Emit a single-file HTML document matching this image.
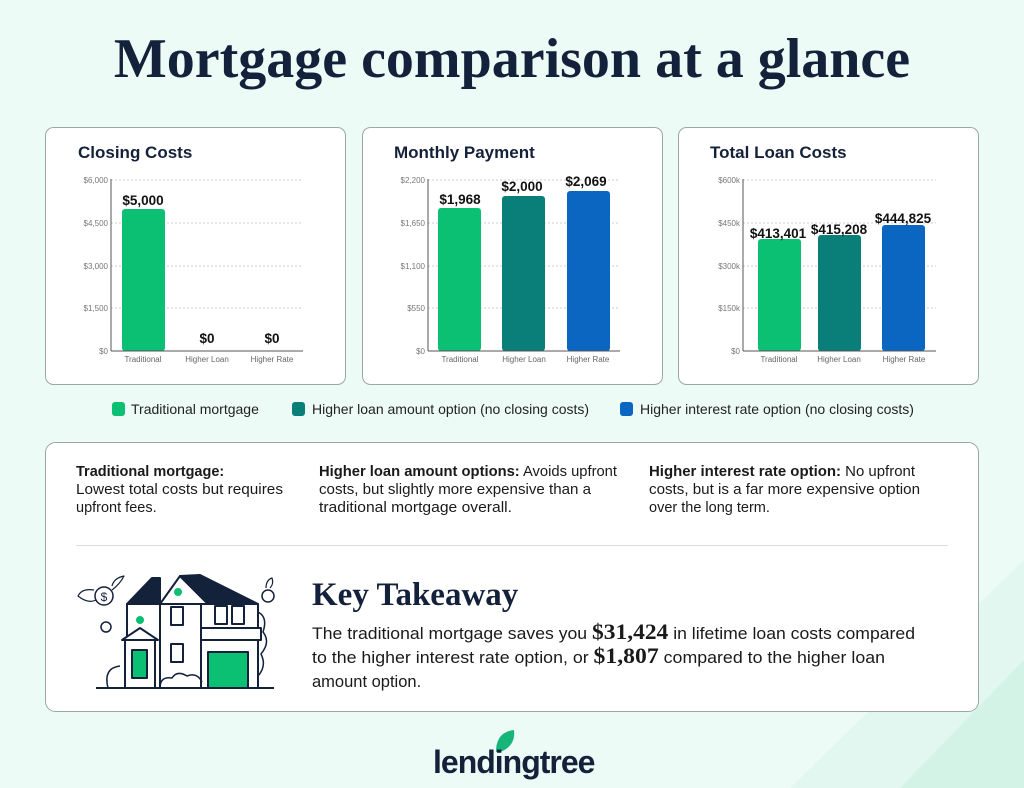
<!DOCTYPE html>
<html><head><meta charset="utf-8"><style>
html,body{margin:0;padding:0;background:#edfbf6;}
svg{display:block}
.s{font-family:"Liberation Sans",sans-serif}
.ser{font-family:"Liberation Serif",serif}
</style></head><body>
<svg width="1024" height="788" viewBox="0 0 1024 788" xmlns="http://www.w3.org/2000/svg">
<rect width="1024" height="788" fill="#edfbf6"/>
<polygon points="790,788 1024,560 1024,788" fill="#e2f7ef"/>
<polygon points="900,788 1024,660 1024,788" fill="#d3f3e6"/>

<text x="512" y="77" text-anchor="middle" class="ser" font-size="56" font-weight="bold" fill="#14213a">Mortgage comparison at a glance</text>

<rect x="45.5" y="127.5" width="300" height="257" rx="8" fill="#fff" stroke="#9aa7a6"/>
<rect x="362.5" y="127.5" width="300" height="257" rx="8" fill="#fff" stroke="#9aa7a6"/>
<rect x="678.5" y="127.5" width="300" height="257" rx="8" fill="#fff" stroke="#9aa7a6"/>

<g class="s" font-weight="bold" font-size="17" fill="#14213a">
<text x="78" y="158">Closing Costs</text>
<text x="394" y="158">Monthly Payment</text>
<text x="710" y="158">Total Loan Costs</text>
</g>

<g stroke="#ccc" stroke-dasharray="2,2">
<line x1="111" y1="180" x2="303" y2="180"/><line x1="111" y1="223" x2="303" y2="223"/><line x1="111" y1="266" x2="303" y2="266"/><line x1="111" y1="308" x2="303" y2="308"/>
<line x1="428" y1="180" x2="620" y2="180"/><line x1="428" y1="223" x2="620" y2="223"/><line x1="428" y1="266" x2="620" y2="266"/><line x1="428" y1="308" x2="620" y2="308"/>
<line x1="743" y1="180" x2="936" y2="180"/><line x1="743" y1="223" x2="936" y2="223"/><line x1="743" y1="266" x2="936" y2="266"/><line x1="743" y1="308" x2="936" y2="308"/>
</g>
<rect x="122" y="209" width="43" height="142" rx="3" fill="#0bbf73"/>
<rect x="438" y="208" width="43" height="143" rx="3" fill="#0bbf73"/>
<rect x="502" y="196" width="43" height="155" rx="3" fill="#0a7f7a"/>
<rect x="567" y="191" width="43" height="160" rx="3" fill="#0a66c0"/>
<rect x="758" y="239" width="43" height="112" rx="3" fill="#0bbf73"/>
<rect x="818" y="235" width="43" height="116" rx="3" fill="#0a7f7a"/>
<rect x="882" y="225" width="43" height="126" rx="3" fill="#0a66c0"/>
<g stroke="#555" stroke-width="1">
<line x1="111" y1="179" x2="111" y2="351"/><line x1="111" y1="351" x2="303" y2="351"/>
<line x1="428" y1="179" x2="428" y2="351"/><line x1="428" y1="351" x2="620" y2="351"/>
<line x1="743" y1="179" x2="743" y2="351"/><line x1="743" y1="351" x2="936" y2="351"/>
</g>
<g class="s" font-size="8" fill="#777" text-anchor="end">
<text x="108" y="183">$6,000</text><text x="108" y="226">$4,500</text><text x="108" y="269">$3,000</text><text x="108" y="311">$1,500</text><text x="108" y="354">$0</text>
<text x="425" y="183">$2,200</text><text x="425" y="226">$1,650</text><text x="425" y="269">$1,100</text><text x="425" y="311">$550</text><text x="425" y="354">$0</text>
<text x="740" y="183">$600k</text><text x="740" y="226">$450k</text><text x="740" y="269">$300k</text><text x="740" y="311">$150k</text><text x="740" y="354">$0</text>
</g>
<g class="s" font-size="8" fill="#666" text-anchor="middle">
<text x="143" y="362">Traditional</text><text x="207" y="362">Higher Loan</text><text x="272" y="362">Higher Rate</text>
<text x="460" y="362">Traditional</text><text x="524" y="362">Higher Loan</text><text x="588" y="362">Higher Rate</text>
<text x="779" y="362">Traditional</text><text x="839" y="362">Higher Loan</text><text x="904" y="362">Higher Rate</text>
</g>
<g class="s" font-size="13.5" font-weight="bold" fill="#111" text-anchor="middle">
<text x="143" y="205">$5,000</text><text x="207" y="343">$0</text><text x="272" y="343">$0</text>
<text x="460" y="204">$1,968</text><text x="522" y="191">$2,000</text><text x="586" y="186">$2,069</text>
<text x="778" y="238">$413,401</text><text x="839" y="234">$415,208</text><text x="903" y="223">$444,825</text>
</g>

<rect x="112" y="402" width="13" height="14" rx="3" fill="#0bbf73"/>
<rect x="292" y="402" width="13" height="14" rx="3" fill="#0a7f7a"/>
<rect x="620" y="402" width="13" height="14" rx="3" fill="#0a66c0"/>
<g class="s" font-size="14" fill="#222">
<text x="131" y="414">Traditional mortgage</text>
<text x="312" y="414">Higher loan amount option (no closing costs)</text>
<text x="640" y="414">Higher interest rate option (no closing costs)</text>
</g>

<rect x="45.5" y="442.5" width="933" height="269" rx="10" fill="#fff" stroke="#9aa7a6"/>
<g class="s" font-size="14.5" fill="#1a1a1a">
<text x="76" y="476" font-weight="bold">Traditional mortgage:</text>
<text x="76" y="494" textLength="207" lengthAdjust="spacingAndGlyphs">Lowest total costs but requires</text>
<text x="76" y="512">upfront fees.</text>
<text x="319" y="476" textLength="298" lengthAdjust="spacingAndGlyphs"><tspan font-weight="bold">Higher loan amount options:</tspan> Avoids upfront</text>
<text x="319" y="494" textLength="272" lengthAdjust="spacingAndGlyphs">costs, but slightly more expensive than a</text>
<text x="319" y="512" textLength="193" lengthAdjust="spacingAndGlyphs">traditional mortgage overall.</text>
<text x="649" y="476" textLength="266" lengthAdjust="spacingAndGlyphs"><tspan font-weight="bold">Higher interest rate option:</tspan> No upfront</text>
<text x="649" y="494" textLength="271" lengthAdjust="spacingAndGlyphs">costs, but is a far more expensive option</text>
<text x="649" y="512">over the long term.</text>
</g>
<line x1="76" y1="545.5" x2="948" y2="545.5" stroke="#ddd"/>

<text x="312" y="605" class="ser" font-size="33" font-weight="bold" fill="#14213a">Key Takeaway</text>
<g class="s" font-size="16.5" fill="#1a1a1a">
<text x="312" y="639" textLength="603" lengthAdjust="spacingAndGlyphs">The traditional mortgage saves you <tspan font-weight="bold" font-size="22" font-family="Liberation Serif,serif">$31,424</tspan> in lifetime loan costs compared</text>
<text x="312" y="663" textLength="573" lengthAdjust="spacingAndGlyphs">to the higher interest rate option, or <tspan font-weight="bold" font-size="22" font-family="Liberation Serif,serif">$1,807</tspan> compared to the higher loan</text>
<text x="312" y="687">amount option.</text>
</g>

<g fill="none" stroke="#14213a" stroke-width="2" stroke-linejoin="round">
<line x1="96" y1="688" x2="274" y2="688"/>
<polygon points="127,604 152,578 160,578 160,604" fill="#14213a"/>
<polygon points="160,604 180,576 208,604" fill="#fff"/>
<polygon points="180,576 200,575 258,604 208,604" fill="#14213a"/>
<rect x="127" y="604" width="33" height="84" fill="#fff"/>
<rect x="160" y="604" width="41" height="84" fill="#fff"/>
<rect x="201" y="604" width="57" height="84" fill="#fff"/>
<polygon points="122,640 140,628 158,640" fill="#fff"/>
<rect x="125" y="640" width="30" height="48" fill="#fff"/>
<rect x="132" y="650" width="15" height="28" fill="#0bbf73"/>
<rect x="201" y="628" width="60" height="12" fill="#fff"/>
<rect x="208" y="652" width="40" height="36" fill="#0bbf73"/>
<rect x="171" y="607" width="12" height="18"/><rect x="171" y="644" width="12" height="18"/>
<rect x="215" y="606" width="12" height="18"/><rect x="232" y="606" width="12" height="18"/>
<circle cx="178" cy="592" r="4" fill="#0bbf73" stroke="none"/>
<circle cx="140" cy="620" r="4" fill="#0bbf73" stroke="none"/>
<path d="M258 612 q10 5 5 20 q8 10 -2 22 q6 12 -3 22" stroke-width="1.5"/>
<path d="M108 688 q-5 -20 12 -22" stroke-width="1.5"/>
<path d="M160 688 q0 -12 12 -10 q5 -8 15 -2 q10 -4 15 6" stroke-width="1.5"/>
<circle cx="104" cy="596" r="9" stroke-width="1.5"/>
<path d="M94 590 q-12 -2 -16 6 q10 8 18 4" stroke-width="1.2"/>
<path d="M112 590 q8 -6 12 -14 q-10 2 -12 10" stroke-width="1.2"/>
<circle cx="106" cy="627" r="5" stroke-width="1.5"/>
<circle cx="268" cy="596" r="6" stroke-width="1.5"/>
<path d="M266 588 q0 -8 6 -10 q2 6 -2 10" stroke-width="1.2"/>
</g>
<text x="104" y="601" class="s" font-size="12" text-anchor="middle" fill="#14213a">$</text>

<path d="M496 752 q0 -20 18 -22 q2 16 -14 22 z" fill="#16b67a"/>
<text x="433" y="773" class="s" font-size="32" font-weight="bold" fill="#14213a" letter-spacing="-1">lendingtree</text>
</svg>
</body></html>
